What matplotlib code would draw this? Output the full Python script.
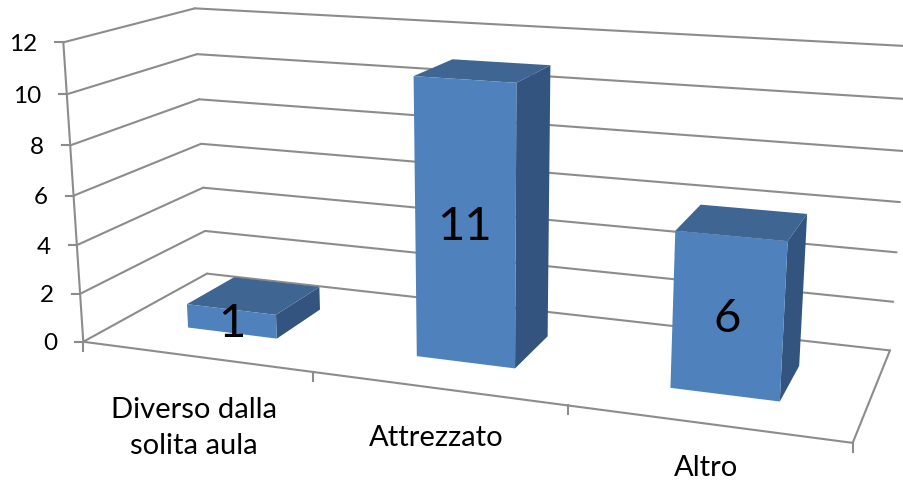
import numpy as np
import matplotlib
matplotlib.use("Agg")
import matplotlib.pyplot as plt
from matplotlib.patches import Polygon

plt.rcParams['font.family'] = ['Lato', 'DejaVu Sans']

categories = ["Diverso dalla\nsolita aula", "Attrezzato", "Altro"]
values = [1, 11, 6]
y_ticks = [0, 2, 4, 6, 8, 10, 12]

# pixel positions of the box corners in the picture, used to fit the perspective
calib_world = [(0, 0, 0), (0, 0, 12), (0, 1, 0), (0, 1, 12), (3, 1, 0), (3, 1, 6), (3, 0, 0),
               (1, 0, 0), (2, 0, 0), (0, 0, 6), (0, 1, 6), (3, 1, 2)]
calib_pix = [(83, 341), (63, 43), (207, 274), (195, 8), (890, 350), (900, 202), (853, 442),
             (313, 372), (567, 407), (74, 195), (201, 144), (893, 302)]


def fit_camera(world, pix):
    # plain DLT least squares
    rows = []
    for (x, d, z), (u, v) in zip(world, pix):
        rows.append([x, d, z, 1, 0, 0, 0, 0, -u * x, -u * d, -u * z, -u])
        rows.append([0, 0, 0, 0, x, d, z, 1, -v * x, -v * d, -v * z, -v])
    _, _, vt = np.linalg.svd(np.array(rows, dtype=float))
    return vt[-1].reshape(3, 4)


cam = fit_camera(calib_world, calib_pix)


def project(x, d, z):
    p = cam @ np.array([x, d, z, 1.0])
    return p[0] / p[2], p[1] / p[2]


fig = plt.figure(figsize=(9.04, 4.86), dpi=100)
ax = fig.add_axes([0, 0, 1, 1])
ax.set_xlim(0, 904)
ax.set_ylim(486, 0)
ax.axis("off")

grid_color = "#8C8C8C"
grid_lw = 1.5


def line3d(a, b):
    pa, pb = project(*a), project(*b)
    ax.plot([pa[0], pb[0]], [pa[1], pb[1]], color=grid_color, lw=grid_lw, zorder=1, solid_capstyle="round")


# gridlines on both walls
for t in y_ticks:
    line3d((0, 0, t), (0, 1, t))
    line3d((0, 1, t), (3, 1, t))
    px, py = project(0, 0, t)
    ax.plot([px - 8, px], [py, py], color=grid_color, lw=grid_lw, zorder=1)
    ax.text(px - 26, py + 2, str(t), ha="right", va="center", fontsize=17.5, color="black")

# floor and axes
line3d((0, 0, 0), (0, 0, 12))
line3d((0, 0, 0), (3, 0, 0))
line3d((3, 0, 0), (3, 1, 0))
for i in range(4):
    px, py = project(i, 0, 0)
    ax.plot([px, px], [py, py + 9], color=grid_color, lw=grid_lw, zorder=1)

# bars
front_col = "#4F81BD"
top_col = "#3F6592"
side_col = "#32547F"
bar_lo, bar_hi = 0.3, 0.7
depth_lo, depth_hi = 0.3, 0.7
for i, val in enumerate(values):
    x0, x1 = i + bar_lo, i + bar_hi
    front = [project(x0, depth_lo, 0), project(x1, depth_lo, 0), project(x1, depth_lo, val), project(x0, depth_lo, val)]
    top = [project(x0, depth_lo, val), project(x1, depth_lo, val), project(x1, depth_hi, val), project(x0, depth_hi, val)]
    side = [project(x1, depth_lo, 0), project(x1, depth_hi, 0), project(x1, depth_hi, val), project(x1, depth_lo, val)]
    ax.add_patch(Polygon(side, closed=True, fc=side_col, ec="none", zorder=3))
    ax.add_patch(Polygon(top, closed=True, fc=top_col, ec="none", zorder=3))
    ax.add_patch(Polygon(front, closed=True, fc=front_col, ec="none", zorder=3))
    cx, cy = project(i + 0.5, depth_lo, val / 2)
    ax.text(cx, cy + 3, str(val), ha="center", va="center", fontsize=34, color="black", zorder=5)

# category labels
label_x = [194, 436, 706]
label_y = [428, 438, 468]
for name, lx, ly in zip(categories, label_x, label_y):
    ax.text(lx, ly, name, ha="center", va="center", fontsize=21, color="black", linespacing=1.44)

fig.savefig("out.png", dpi=100)
